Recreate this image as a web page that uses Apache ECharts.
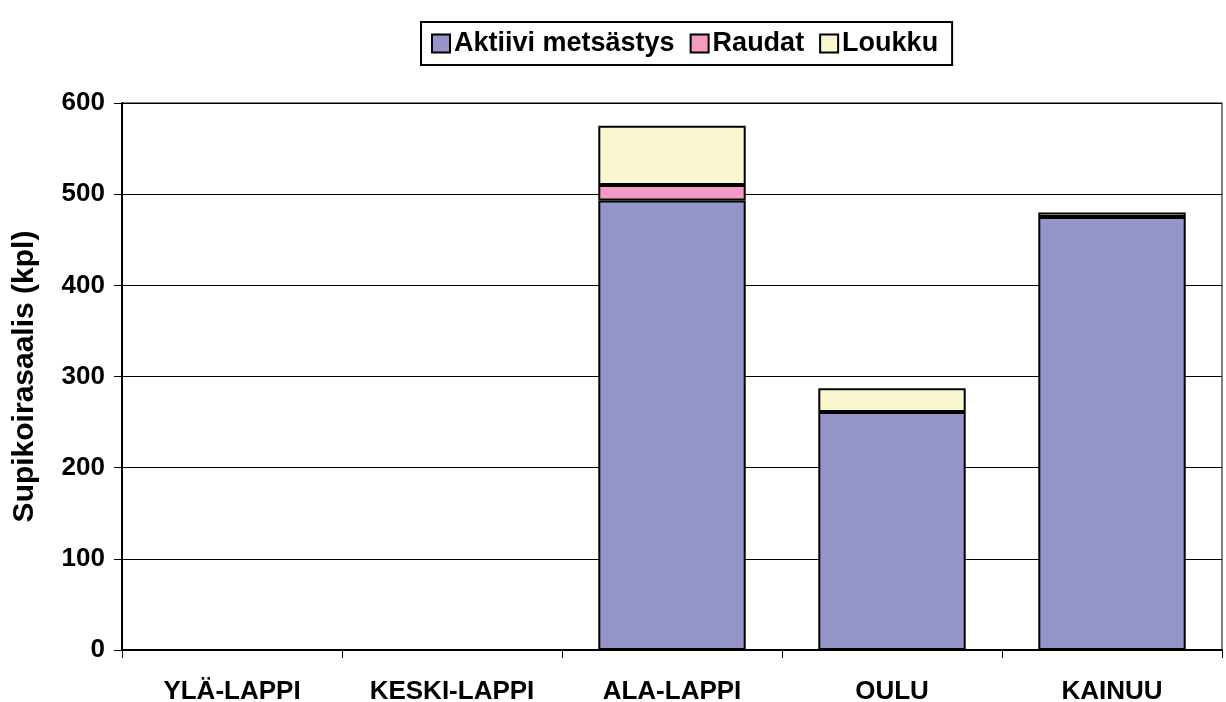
<!DOCTYPE html>
<html>
<head>
<meta charset="utf-8">
<script src="https://cdn.jsdelivr.net/npm/echarts@6/dist/echarts.min.js"></script>
<style>
html, body { margin: 0; padding: 0; background: #fff; }
#chart { width: 1226px; height: 702px; }
</style>
</head>
<body>
<div id="chart"></div>
<script>
// alueet ja saalis lajeittain
var categories = ['YLÄ-LAPPI', 'KESKI-LAPPI', 'ALA-LAPPI', 'OULU', 'KAINUU'];
var aktiivi = [0, 0, 493, 261, 475];
var raudat = [0, 0, 17, 0, 0];
var loukku = [0, 0, 65, 26, 5];
var yTicks = [0, 100, 200, 300, 400, 500, 600];

var font = 'Arial, "Liberation Sans", sans-serif';

function barSeries(name, data, color) {
    return {
        name: name,
        type: 'bar',
        stack: 'saalis',
        // nollat jätetään piirtämättä, muuten tulee ylimääräinen reunaviiva
        data: data.map(function (v) { return v === 0 ? '-' : v; }),
        barCategoryGap: '33%',
        itemStyle: { color: color, borderColor: '#000', borderWidth: 2 },
        emphasis: { disabled: true }
    };
}

var chart = echarts.init(document.getElementById('chart'));
chart.setOption({
    animation: false,
    legend: {
        top: 22,
        left: 421,
        itemWidth: 18,
        itemHeight: 18,
        itemGap: 15,
        padding: [8, 14, 8, 10],
        borderColor: '#000',
        borderWidth: 2,
        icon: 'rect',
        textStyle: { fontFamily: font, fontWeight: 'bold', fontSize: 27, color: '#000', padding: [0, 0, 0, -1] },
        data: ['Aktiivi metsästys', 'Raudat', 'Loukku']
    },
    grid: {
        left: 122, right: 4, top: 103, bottom: 52,
        outerBoundsMode: 'none',
        containLabel: false,
        show: true, borderColor: '#000', borderWidth: 1
    },
    xAxis: {
        type: 'category',
        data: categories,
        axisLine: { lineStyle: { color: '#000', width: 2 } },
        axisTick: { show: true, length: 8, lineStyle: { color: '#000' } },
        axisLabel: { fontFamily: font, fontWeight: 'bold', fontSize: 26, color: '#000', margin: 29 }
    },
    yAxis: {
        type: 'value',
        min: yTicks[0],
        max: yTicks[yTicks.length - 1],
        interval: 100,
        name: 'Supikoirasaalis (kpl)',
        nameLocation: 'middle',
        nameGap: 82,
        nameTextStyle: { fontFamily: font, fontWeight: 'bold', fontSize: 30, color: '#000' },
        axisLine: { show: true, lineStyle: { color: '#000', width: 2 } },
        axisTick: { show: true, length: 8, lineStyle: { color: '#000' } },
        axisLabel: { fontFamily: font, fontWeight: 'bold', fontSize: 26, color: '#000', margin: 17 },
        splitLine: { lineStyle: { color: '#000', width: 1 } }
    },
    series: [
        barSeries('Aktiivi metsästys', aktiivi, '#9595C9'),
        barSeries('Raudat', raudat, '#F39BC3'),
        barSeries('Loukku', loukku, '#FAF7D0')
    ]
});
</script>
</body>
</html>
